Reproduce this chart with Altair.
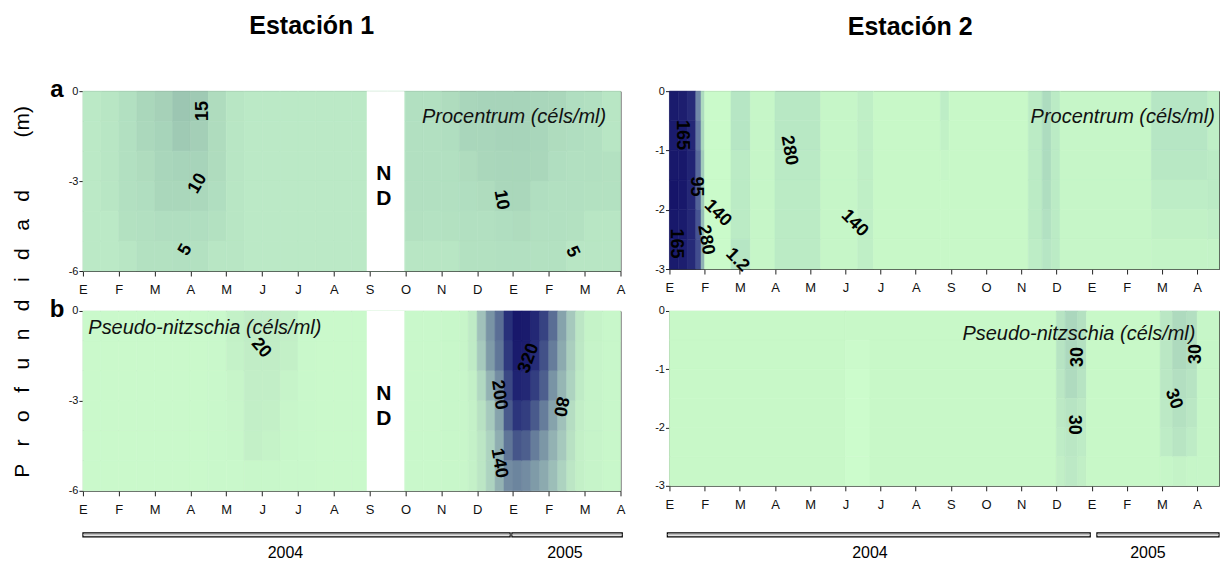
import altair as alt
import pandas as pd

FONT = "Liberation Sans"
NARROW = "Liberation Sans Narrow, Liberation Sans, Arial"
MONTHS = ["E", "F", "M", "A", "M", "J", "J", "A", "S", "O", "N", "D", "E", "F", "M", "A"]

# ---------------- Estación 1 · Procentrum (a) ----------------
A_X = [0, 0.5, 1, 1.5, 2, 2.5, 3, 3.5, 4, 4.5, 5, 5.5, 6, 6.5, 7, 7.5, 8, 8.5, 9, 9.5,
       10, 10.5, 11, 11.5, 12, 12.5, 13, 13.5, 14, 14.5, 15]
A_V = [
    [3, 3, 3, 3, 3, 3], [4, 4, 4, 4, 3, 3], [6, 6, 6, 6, 5.5, 4], [10.5, 10, 8, 7, 6, 5.5],
    [13, 12, 11, 10.5, 7, 5.5], [17, 16, 12, 10.5, 7, 6], [16, 14, 12, 10, 7, 5.5],
    [8, 8, 8, 7, 5.5, 4], [4, 4, 4, 4, 4, 4], [3, 3, 3, 3, 3, 3], [3, 3, 3, 3, 3, 3],
    [3, 3, 3, 3, 3, 3], [3, 3, 3, 3, 3, 3], [3, 3, 3, 3, 3, 3], [3, 3, 3, 3, 3, 3],
    [3, 3, 3, 3, 3, 3], [3, 3, 3, 3, 3, 3], [3, 3, 3, 3, 3, 3],
    [6, 6, 6, 6, 5.5, 4], [6, 6, 6, 6, 5, 4], [8, 7, 6, 6, 5.5, 4], [11, 11, 8, 7, 6, 5.5],
    [12, 11, 10.5, 8, 6, 5.5], [12, 12, 11, 10.5, 7, 6], [12, 12, 11, 10.5, 8, 6],
    [11, 11, 10.5, 7, 6, 5.5], [10.5, 8, 7, 6, 6, 5.5], [7, 7, 6, 6, 5.5, 4],
    [6, 6, 6, 5.5, 4, 4], [4, 4, 5.5, 5.5, 4, 4],
]
A_LBL_TEXT = ["15", "10", "5", "10", "5"]
A_LBL_MONTH = [3.36, 3.2, 2.86, 11.67, 13.66]
A_LBL_DEPTH = [-0.66, -3.08, -5.3, -3.63, -5.36]
A_LBL_ANGLE = [270, 300, 300, 80, 65]

# ---------------- Estación 1 · Pseudo-nitzschia (b) ----------------
B_X = [0, 0.5, 1, 1.5, 2, 2.5, 3, 3.5, 4, 4.5, 5, 5.5, 6, 6.5, 7, 7.5, 8, 8.5, 9, 9.5,
       10, 10.5, 10.75, 11, 11.25, 11.5, 11.75, 12, 12.25, 12.5, 12.75, 13, 13.25, 13.5,
       13.75, 14, 14.5, 15]
B_V = [
    [5] * 6, [5] * 6, [5] * 6, [5] * 6, [5] * 6, [5] * 6, [5] * 6, [6] * 6,
    [19, 17, 12, 10, 8, 6], [24, 23, 22, 21, 20, 8], [24, 23, 22, 20, 15, 8],
    [21, 20, 14, 10, 8, 6], [6] * 6, [5] * 6, [5] * 6, [5] * 6, [5] * 6, [5] * 6,
    [6] * 6, [6] * 6, [8] * 6,
    [12, 12, 10, 10, 10, 10], [25, 25, 20, 18, 18, 18], [70, 60, 45, 35, 30, 30],
    [130, 120, 90, 60, 50, 50], [180, 170, 140, 110, 95, 90],
    [300, 280, 250, 210, 170, 140], [390, 380, 350, 290, 220, 150],
    [380, 370, 330, 270, 200, 140], [330, 310, 270, 210, 160, 120],
    [260, 230, 200, 160, 125, 100], [180, 160, 130, 110, 90, 75],
    [110, 100, 85, 70, 60, 50], [60, 55, 50, 40, 35, 30], [30, 28, 25, 22, 20, 20],
    [15, 14, 14, 14, 14, 14], [8] * 6,
]
B_LBL_TEXT = ["20", "320", "200", "80", "140"]
B_LBL_MONTH = [4.97, 12.44, 11.61, 13.33, 11.61]
B_LBL_DEPTH = [-1.24, -1.58, -2.8, -3.19, -5.08]
B_LBL_ANGLE = [50, 290, 82, 100, 80]

# ---------------- Estación 2 · Procentrum ----------------
C_X = [0, 0.25, 0.5, 0.75, 0.9, 1.0, 1.75, 2.3, 3.0, 4.3, 5.35, 5.8, 7.7, 7.95, 10.2,
       10.6, 10.85, 11.1, 13.7, 15.3, 15.62]
C_V = [
    [340, 340, 350, 360, 350, 340], [330, 340, 350, 350, 340, 330],
    [290, 300, 310, 300, 300, 290], [120, 140, 160, 170, 190, 200],
    [40, 45, 55, 60, 70, 80], [5] * 6, [30, 30, 25, 25, 25, 30], [12] * 6,
    [28, 28, 26, 25, 25, 25], [12] * 6, [20] * 6, [10] * 6, [22, 18, 12, 10, 10, 10],
    [10] * 6, [25, 25, 25, 25, 25, 22], [40, 40, 40, 38, 35, 30], [25] * 6, [12] * 6,
    [30, 30, 28, 22, 18, 15], [20, 20, 25, 25, 20, 15],
]
C_LBL_TEXT = ["165", "95", "140", "280", "165", "1.2", "280", "140"]
C_LBL_MONTH = [0.35, 0.75, 1.37, 1.03, 0.18, 1.93, 3.4, 5.26]
C_LBL_DEPTH = [-0.74, -1.61, -2.06, -2.51, -2.57, -2.85, -1.0, -2.23]
C_LBL_ANGLE = [90, 90, 45, 80, 90, 45, 80, 45]

# ---------------- Estación 2 · Pseudo-nitzschia ----------------
D_X = [0, 5.0, 5.7, 11.0, 11.25, 11.6, 11.85, 13.95, 14.3, 14.7, 15.0, 15.62]
D_V = [
    [8] * 6, [8, 5, 3, 3, 3, 3], [8] * 6, [25, 25, 22, 20, 18, 15],
    [38, 36, 34, 25, 22, 20], [28, 28, 25, 20, 18, 15], [8] * 6,
    [22, 22, 22, 20, 18, 10], [35, 35, 30, 28, 24, 12], [30, 30, 25, 22, 18, 10], [10] * 6,
]
D_LBL_TEXT = ["30", "30", "30", "30"]
D_LBL_MONTH = [11.62, 11.5, 14.33, 14.97]
D_LBL_DEPTH = [-0.79, -1.95, -1.51, -0.74]
D_LBL_ANGLE = [270, 90, 70, 270]

ND_START, ND_END = 7.92, 8.97
YEARS = ["2004", "2005"]
YEAR1_START, YEAR1_END, YEAR1_MID = [0, 11.97], [11.92, 15.05], [5.65, 13.45]
YEAR2_START, YEAR2_END, YEAR2_MID = [-0.06, 12.15], [11.96, 15.62], [5.7, 13.6]

NB = "\u00a0"
YTITLE = (NB * 3).join(list("Profundidad")) + NB * 9 + "(m)"


def cells(x_edges, values, depth):
    n = len(values[0])
    step = depth / n
    rows = []
    for i, col in enumerate(values):
        for j, v in enumerate(col):
            rows.append({"x0": x_edges[i], "x1": x_edges[i + 1],
                         "y0": -j * step, "y1": -(j + 1) * step, "v": v})
    return pd.DataFrame(rows)


month_expr = "[" + ",".join("'%s'" % m for m in MONTHS) + "][datum.value]"


def panel(x_edges, values, depth, xmax, yticks, w, h, cdom, crange,
          lt, lm, ld, la, name, name_m, name_d, name_align, letter=None, nd=False,
          title=None, title_dx=0, title_offset=50, ytitle=False):
    xs = alt.Scale(domain=[0, xmax], nice=False, zero=False)
    ys = alt.Scale(domain=[-depth, 0], nice=False, zero=False)
    xaxis = alt.Axis(values=list(range(16)), tickCount=16, labelExpr=month_expr, grid=False,
                     domain=False, tickSize=5, tickColor="#222", labelPadding=8,
                     labelFontSize=13, labelFont=NARROW, labelColor="#111", labelFlush=False,
                     labelOverlap=False, title=None)
    yaxis = alt.Axis(values=yticks, tickCount=len(yticks), grid=False, domain=False,
                     tickSize=4, tickColor="#222", labelFontSize=11, labelFont=FONT,
                     labelColor="#111", labelPadding=1, labelOverlap=False,
                     labelExpr="datum.value == 0 ? '0' : '-' + abs(datum.value)", title=None)
    cs = alt.Scale(domain=cdom, range=crange, interpolate="rgb")
    df = cells(x_edges, values, depth)
    heat = alt.Chart(df).mark_rect(strokeWidth=0.6).encode(
        x=alt.X("x0:Q", scale=xs, axis=xaxis),
        x2="x1:Q",
        y=alt.Y("y0:Q", scale=ys, axis=yaxis),
        y2="y1:Q",
        color=alt.Color("v:Q", scale=cs, legend=None),
        stroke=alt.Stroke("v:Q", scale=cs, legend=None),
    )
    layers = [heat]
    if nd:
        nd_df = pd.DataFrame({"a": [ND_START], "b": [ND_END], "top": [0], "bot": [-depth]})
        layers.append(alt.Chart(nd_df).mark_rect(color="white").encode(
            x="a:Q", x2="b:Q", y="top:Q", y2="bot:Q"))
        nd_t = pd.DataFrame({"m": [(ND_START + ND_END) / 2 - 0.05] * 2,
                             "d": [-depth * 0.46, -depth * 0.60], "t": ["N", "D"]})
        layers.append(alt.Chart(nd_t).mark_text(font=FONT, fontSize=21, fontWeight="bold",
                                                color="black").encode(
            x="m:Q", y="d:Q", text="t:N"))
    lab = pd.DataFrame({"m": lm, "d": ld, "t": lt, "a": la})
    layers.append(alt.Chart(lab).mark_text(font=FONT, fontSize=18, fontWeight="bold",
                                           color="black").encode(
        x="m:Q", y="d:Q", text="t:N", angle=alt.Angle("a:Q", scale=None)))
    nm = pd.DataFrame({"m": [name_m], "d": [name_d], "t": [name]})
    layers.append(alt.Chart(nm).mark_text(font=FONT, fontSize=20, fontStyle="italic",
                                          align=name_align, color="#111").encode(
        x="m:Q", y="d:Q", text="t:N"))
    if letter:
        ldf = pd.DataFrame({"t": [letter]})
        layers.append(alt.Chart(ldf).mark_text(font=FONT, fontSize=24, fontWeight="bold",
                                               color="black", baseline="alphabetic").encode(
            text="t:N", x=alt.value(-26), y=alt.value(6)))
    if ytitle:
        tdf = pd.DataFrame({"t": [YTITLE]})
        layers.append(alt.Chart(tdf).mark_text(font=FONT, fontSize=21, angle=270,
                                               color="black").encode(
            text="t:N", x=alt.value(-60), y=alt.value(201)))
    ch = alt.layer(*layers).properties(width=w, height=h)
    if title:
        ch = ch.properties(title=alt.TitleParams(title, font=FONT, fontSize=25,
                                                 fontWeight="bold", anchor="middle",
                                                 frame="group", dx=title_dx,
                                                 offset=title_offset, color="black"))
    return ch


def years(starts, ends, mids, xmax, w):
    xs = alt.Scale(domain=[0, xmax], nice=False, zero=False)
    df = pd.DataFrame({"y": YEARS, "s": starts, "e": ends, "m": mids})
    bars = alt.Chart(df).mark_rect(fill="white", stroke="black", strokeWidth=1.2).encode(
        x=alt.X("s:Q", scale=xs, axis=None), x2="e:Q",
        y=alt.value(2), y2=alt.value(6))
    inner = alt.Chart(df).mark_rule(color="#a0a0a0", strokeWidth=1).encode(
        x=alt.X("s:Q", scale=xs, axis=None), x2="e:Q", y=alt.value(4))
    txt = alt.Chart(df).mark_text(font=NARROW, fontSize=16, color="black").encode(
        x=alt.X("m:Q", scale=xs, axis=None), text="y:N", y=alt.value(22))
    return alt.layer(bars, inner, txt).properties(
        width=w, height=30, view=alt.ViewBackground(stroke="transparent", strokeWidth=0))


pa = panel(A_X, A_V, 6, 15, [0, -3, -6], 538, 180,
           [3, 5, 10, 15, 17], ["#bbe9c6", "#b4e2c2", "#abd8bc", "#a2cdb6", "#9cc6b2"],
           A_LBL_TEXT, A_LBL_MONTH, A_LBL_DEPTH, A_LBL_ANGLE,
           "Procentrum (céls/ml)", 14.6, -0.86, "right", letter="a", nd=True,
           title="Estación 1", title_dx=-40, title_offset=39, ytitle=True)
pb = panel(B_X, B_V, 6, 15, [0, -3, -6], 538, 180,
           [0, 20, 60, 120, 200, 300, 390],
           ["#ccfccc", "#c3f0c7", "#a6c9bd", "#7f9ba8", "#4d5f8e", "#28307a", "#18186b"],
           B_LBL_TEXT, B_LBL_MONTH, B_LBL_DEPTH, B_LBL_ANGLE,
           "Pseudo-nitzschia (céls/ml)", 0.15, -0.58, "left", letter="b", nd=True)
pc = panel(C_X, C_V, 3, 15.62, [0, -1, -2, -3], 550, 178,
           [0, 10, 30, 45, 120, 220, 350],
           ["#ccfccc", "#c8f8c8", "#b6e6c4", "#a9d7bd", "#7088a8", "#363e88", "#18186b"],
           C_LBL_TEXT, C_LBL_MONTH, C_LBL_DEPTH, C_LBL_ANGLE,
           "Procentrum (céls/ml)", 15.5, -0.43, "right",
           title="Estación 2", title_dx=-34, title_offset=45)
pd_ = panel(D_X, D_V, 3, 15.62, [0, -1, -2, -3], 550, 175,
            [0, 8, 20, 40], ["#cffecf", "#c8f8c8", "#bce9c5", "#a9d5bc"],
            D_LBL_TEXT, D_LBL_MONTH, D_LBL_DEPTH, D_LBL_ANGLE,
            "Pseudo-nitzschia (céls/ml)", 14.95, -0.39, "right")
y1 = years(YEAR1_START, YEAR1_END, YEAR1_MID, 15, 538)
y2 = years(YEAR2_START, YEAR2_END, YEAR2_MID, 15.62, 550)

chart = alt.concat(pa, pc, pb, pd_, y1, y2, columns=2, bounds="flush",
                   spacing=alt.RowColnumber(row=40, column=49)).resolve_scale(
    color="independent", stroke="independent", x="independent", y="independent"
).properties(
    padding={"left": 11, "top": 13, "right": 0, "bottom": 0},
    background="white",
).configure_view(stroke="#333", strokeWidth=1)

chart.save("out.html", embed_options={"renderer": "svg", "actions": False})
